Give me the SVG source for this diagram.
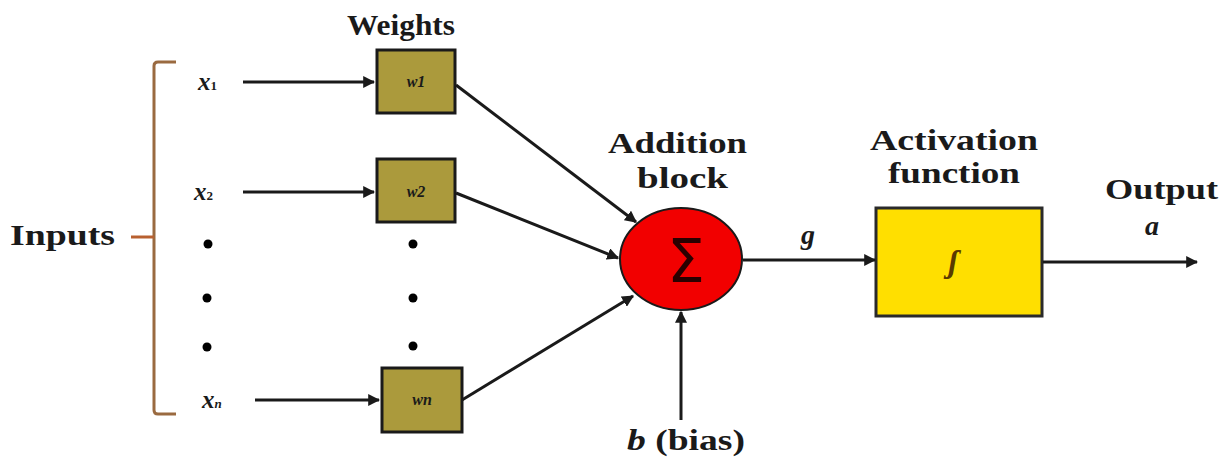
<svg xmlns="http://www.w3.org/2000/svg" width="1223" height="460" viewBox="0 0 1223 460">
<defs>
<marker id="ah" viewBox="0 0 10 10" refX="9" refY="5" markerWidth="4" markerHeight="4" orient="auto" markerUnits="strokeWidth">
<path d="M0,0 L10,5 L0,10 Z" fill="#1a1a1a"/>
</marker>
<style>
.lbl{font-family:"Liberation Serif",serif;font-weight:bold;fill:#1a1a1a;font-size:30px}
.var{font-family:"Liberation Serif",serif;font-style:italic;font-weight:bold;fill:#1a1a1a}
.conn{stroke:#1a1a1a;stroke-width:3;fill:none;marker-end:url(#ah)}
.wbox{fill:#ab9a3c;stroke:#1a1a1a;stroke-width:3}
.dot{fill:#000}
</style>
</defs>
<rect width="1223" height="460" fill="#fff"/>

<g id="inputs">
<path d="M176,62 L158,62 Q154,62 154,66 L154,410 Q154,414 158,414 L176,414" fill="none" stroke="#9a6a40" stroke-width="3"/>
<line x1="131" y1="237" x2="154" y2="237" stroke="#b86030" stroke-width="3"/>
<text class="lbl" x="10" y="245" textLength="105" lengthAdjust="spacingAndGlyphs">Inputs</text>
<text class="var" x="198" y="90" font-size="25">x<tspan font-size="13" font-style="normal">1</tspan></text>
<text class="var" x="194" y="200" font-size="25">x<tspan font-size="13" font-style="normal">2</tspan></text>
<text class="var" x="202" y="408" font-size="25">x<tspan font-size="13">n</tspan></text>
<circle class="dot" cx="208" cy="244" r="4.5"/>
<circle class="dot" cx="207" cy="298" r="4.5"/>
<circle class="dot" cx="207" cy="347" r="4.5"/>
</g>

<g id="weights">
<text class="lbl" x="347" y="35" textLength="108" lengthAdjust="spacingAndGlyphs" font-size="28">Weights</text>
<circle class="dot" cx="413" cy="244" r="4.5"/>
<circle class="dot" cx="413" cy="298" r="4.5"/>
<circle class="dot" cx="413" cy="346" r="4.5"/>
</g>

<g id="w1">
<rect class="wbox" x="377" y="50" width="78" height="63"/>
<text class="var" x="416" y="87" font-size="16" text-anchor="middle">w1</text>
</g>
<g id="w2">
<rect class="wbox" x="377" y="159" width="78" height="63"/>
<text class="var" x="416" y="197" font-size="16" text-anchor="middle">w2</text>
</g>
<g id="wn">
<rect class="wbox" x="382" y="368" width="80" height="64"/>
<text class="var" x="422" y="405" font-size="16" text-anchor="middle">wn</text>
</g>

<g id="addition">
<text class="lbl" x="608" y="153" textLength="139" lengthAdjust="spacingAndGlyphs">Addition</text>
<text class="lbl" x="637" y="188" textLength="91" lengthAdjust="spacingAndGlyphs">block</text>
<ellipse cx="681" cy="259" rx="61" ry="51" fill="#f20000" stroke="#1a1a1a" stroke-width="2"/>
<text x="686" y="282" font-family="DejaVu Sans, sans-serif" font-size="60" fill="#2a0000" text-anchor="middle">Σ</text>
</g>

<g id="activation">
<text class="lbl" x="870" y="150" textLength="168" lengthAdjust="spacingAndGlyphs">Activation</text>
<text class="lbl" x="888" y="183" textLength="132" lengthAdjust="spacingAndGlyphs">function</text>
<rect x="876" y="208" width="166" height="108" fill="#ffdf00" stroke="#2a2a2a" stroke-width="3"/>
<text class="var" x="953" y="272" font-size="32" text-anchor="middle" style="fill:#5a3a00">ʃ</text>
</g>

<g id="output">
<text class="lbl" x="1105" y="199" textLength="113" lengthAdjust="spacingAndGlyphs">Output</text>
<text class="var" x="1152" y="235" font-size="28" text-anchor="middle">a</text>
</g>

<g id="bias">
<text x="627" y="450" font-family="Liberation Serif, serif" font-size="30" font-weight="bold" fill="#1a1a1a" textLength="118" lengthAdjust="spacingAndGlyphs"><tspan font-style="italic">b</tspan> (bias)</text>
</g>

<text class="var" x="808" y="244" font-size="28" text-anchor="middle">g</text>

<g id="connectors">
<line class="conn" x1="243" y1="82" x2="374" y2="82"/>
<line class="conn" x1="243" y1="192" x2="374" y2="192"/>
<line class="conn" x1="255" y1="400" x2="379" y2="400"/>
<line class="conn" x1="456" y1="85" x2="636" y2="222"/>
<line class="conn" x1="456" y1="193" x2="618" y2="258"/>
<line class="conn" x1="462" y1="400" x2="633" y2="296"/>
<line class="conn" x1="681" y1="420" x2="681" y2="312"/>
<line class="conn" x1="743" y1="260" x2="875" y2="260"/>
<line class="conn" x1="1043" y1="262" x2="1197" y2="262"/>
</g>
</svg>
